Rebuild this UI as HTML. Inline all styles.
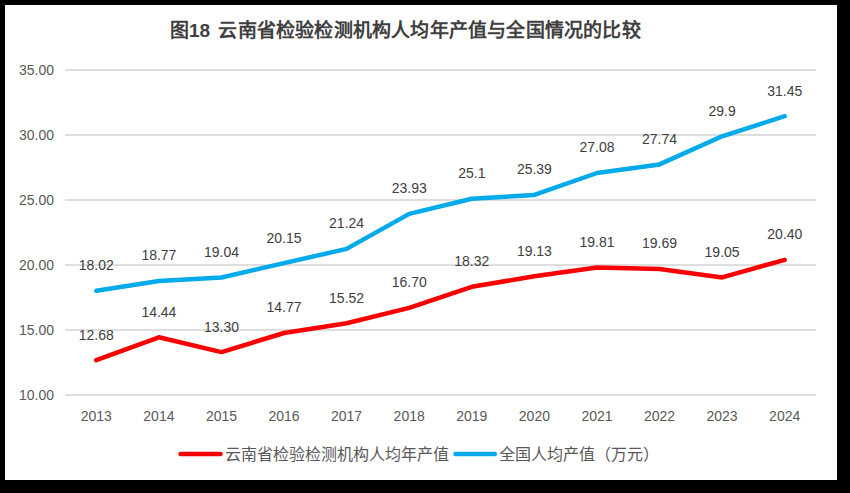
<!DOCTYPE html>
<html lang="zh-CN"><head><meta charset="utf-8"><style>
html,body{margin:0;padding:0;background:#000;width:850px;height:493px;overflow:hidden}
svg{display:block}
.ax{font-family:"Liberation Sans",sans-serif;font-size:14px;fill:#595959}
.dl{font-family:"Liberation Sans",sans-serif;font-size:14px;fill:#404040}
.lg{font-family:"Liberation Sans",sans-serif;font-size:16px;fill:#595959}
.tt{font-family:"Liberation Serif",serif;font-size:19px;font-weight:bold;fill:#404040;white-space:pre}
.tn{font-family:"Liberation Sans",sans-serif}
</style></head><body>
<svg width="850" height="493" viewBox="0 0 850 493">
<rect x="0" y="0" width="850" height="493" fill="#000"/>
<rect x="5" y="5" width="832" height="475" fill="#fff"/>
<line x1="65" y1="70" x2="816" y2="70" stroke="#dedede" stroke-width="2"/>
<line x1="65" y1="135" x2="816" y2="135" stroke="#dedede" stroke-width="2"/>
<line x1="65" y1="200" x2="816" y2="200" stroke="#dedede" stroke-width="2"/>
<line x1="65" y1="265" x2="816" y2="265" stroke="#dedede" stroke-width="2"/>
<line x1="65" y1="330" x2="816" y2="330" stroke="#dedede" stroke-width="2"/>
<line x1="65" y1="395" x2="816" y2="395" stroke="#dedede" stroke-width="2"/>
<text x="54" y="74.8" text-anchor="end" class="ax">35.00</text>
<text x="54" y="139.8" text-anchor="end" class="ax">30.00</text>
<text x="54" y="204.8" text-anchor="end" class="ax">25.00</text>
<text x="54" y="269.8" text-anchor="end" class="ax">20.00</text>
<text x="54" y="334.8" text-anchor="end" class="ax">15.00</text>
<text x="54" y="399.8" text-anchor="end" class="ax">10.00</text>
<text x="96.3" y="420.6" text-anchor="middle" class="ax">2013</text>
<text x="158.9" y="420.6" text-anchor="middle" class="ax">2014</text>
<text x="221.5" y="420.6" text-anchor="middle" class="ax">2015</text>
<text x="284.0" y="420.6" text-anchor="middle" class="ax">2016</text>
<text x="346.6" y="420.6" text-anchor="middle" class="ax">2017</text>
<text x="409.2" y="420.6" text-anchor="middle" class="ax">2018</text>
<text x="471.8" y="420.6" text-anchor="middle" class="ax">2019</text>
<text x="534.4" y="420.6" text-anchor="middle" class="ax">2020</text>
<text x="597.0" y="420.6" text-anchor="middle" class="ax">2021</text>
<text x="659.5" y="420.6" text-anchor="middle" class="ax">2022</text>
<text x="722.1" y="420.6" text-anchor="middle" class="ax">2023</text>
<text x="784.7" y="420.6" text-anchor="middle" class="ax">2024</text>
<polyline points="96.3,290.7 158.9,281.0 221.5,277.5 284.0,263.1 346.6,248.9 409.2,213.9 471.8,198.7 534.4,194.9 597.0,173.0 659.5,164.4 722.1,136.3 784.7,116.2" fill="none" stroke="#00AAEB" stroke-width="4.5" stroke-linejoin="round" stroke-linecap="round"/>
<polyline points="96.3,360.2 158.9,337.3 221.5,352.1 284.0,333.0 346.6,323.2 409.2,307.9 471.8,286.8 534.4,276.3 597.0,267.5 659.5,269.0 722.1,277.4 784.7,259.8" fill="none" stroke="#FA0000" stroke-width="4.5" stroke-linejoin="round" stroke-linecap="round"/>
<text x="96.3" y="270.1" text-anchor="middle" class="dl">18.02</text>
<text x="158.9" y="260.4" text-anchor="middle" class="dl">18.77</text>
<text x="221.5" y="256.9" text-anchor="middle" class="dl">19.04</text>
<text x="284.0" y="242.5" text-anchor="middle" class="dl">20.15</text>
<text x="346.6" y="228.3" text-anchor="middle" class="dl">21.24</text>
<text x="409.2" y="193.3" text-anchor="middle" class="dl">23.93</text>
<text x="471.8" y="178.1" text-anchor="middle" class="dl">25.1</text>
<text x="534.4" y="174.3" text-anchor="middle" class="dl">25.39</text>
<text x="597.0" y="152.4" text-anchor="middle" class="dl">27.08</text>
<text x="659.5" y="143.8" text-anchor="middle" class="dl">27.74</text>
<text x="722.1" y="115.7" text-anchor="middle" class="dl">29.9</text>
<text x="784.7" y="95.6" text-anchor="middle" class="dl">31.45</text>
<text x="96.3" y="339.6" text-anchor="middle" class="dl">12.68</text>
<text x="158.9" y="316.7" text-anchor="middle" class="dl">14.44</text>
<text x="221.5" y="331.5" text-anchor="middle" class="dl">13.30</text>
<text x="284.0" y="312.4" text-anchor="middle" class="dl">14.77</text>
<text x="346.6" y="302.6" text-anchor="middle" class="dl">15.52</text>
<text x="409.2" y="287.3" text-anchor="middle" class="dl">16.70</text>
<text x="471.8" y="266.2" text-anchor="middle" class="dl">18.32</text>
<text x="534.4" y="255.7" text-anchor="middle" class="dl">19.13</text>
<text x="597.0" y="246.9" text-anchor="middle" class="dl">19.81</text>
<text x="659.5" y="248.4" text-anchor="middle" class="dl">19.69</text>
<text x="722.1" y="256.8" text-anchor="middle" class="dl">19.05</text>
<text x="784.7" y="239.2" text-anchor="middle" class="dl">20.40</text>
<line x1="180.5" y1="454" x2="220.5" y2="454" stroke="#FA0000" stroke-width="4.5" stroke-linecap="round"/>
<line x1="455.5" y1="454" x2="494.8" y2="454" stroke="#00AAEB" stroke-width="4.5" stroke-linecap="round"/>
<text x="225" y="460" class="lg">云南省检验检测机构人均年产值</text>
<text x="499" y="460" class="lg">全国人均产值（万元）</text>
<text x="170" y="37.2" class="tt">图<tspan class="tn">18</tspan></text>
<text x="218.30 237.50 256.70 275.90 295.10 314.30 333.50 352.70 371.90 391.10 410.30 429.50 448.70 467.90 487.10 506.30 525.50 544.70 563.90 583.10 602.30 621.50" y="37.2" class="tt">云南省检验检测机构人均年产值与全国情况的比较</text>
</svg>
</body></html>
